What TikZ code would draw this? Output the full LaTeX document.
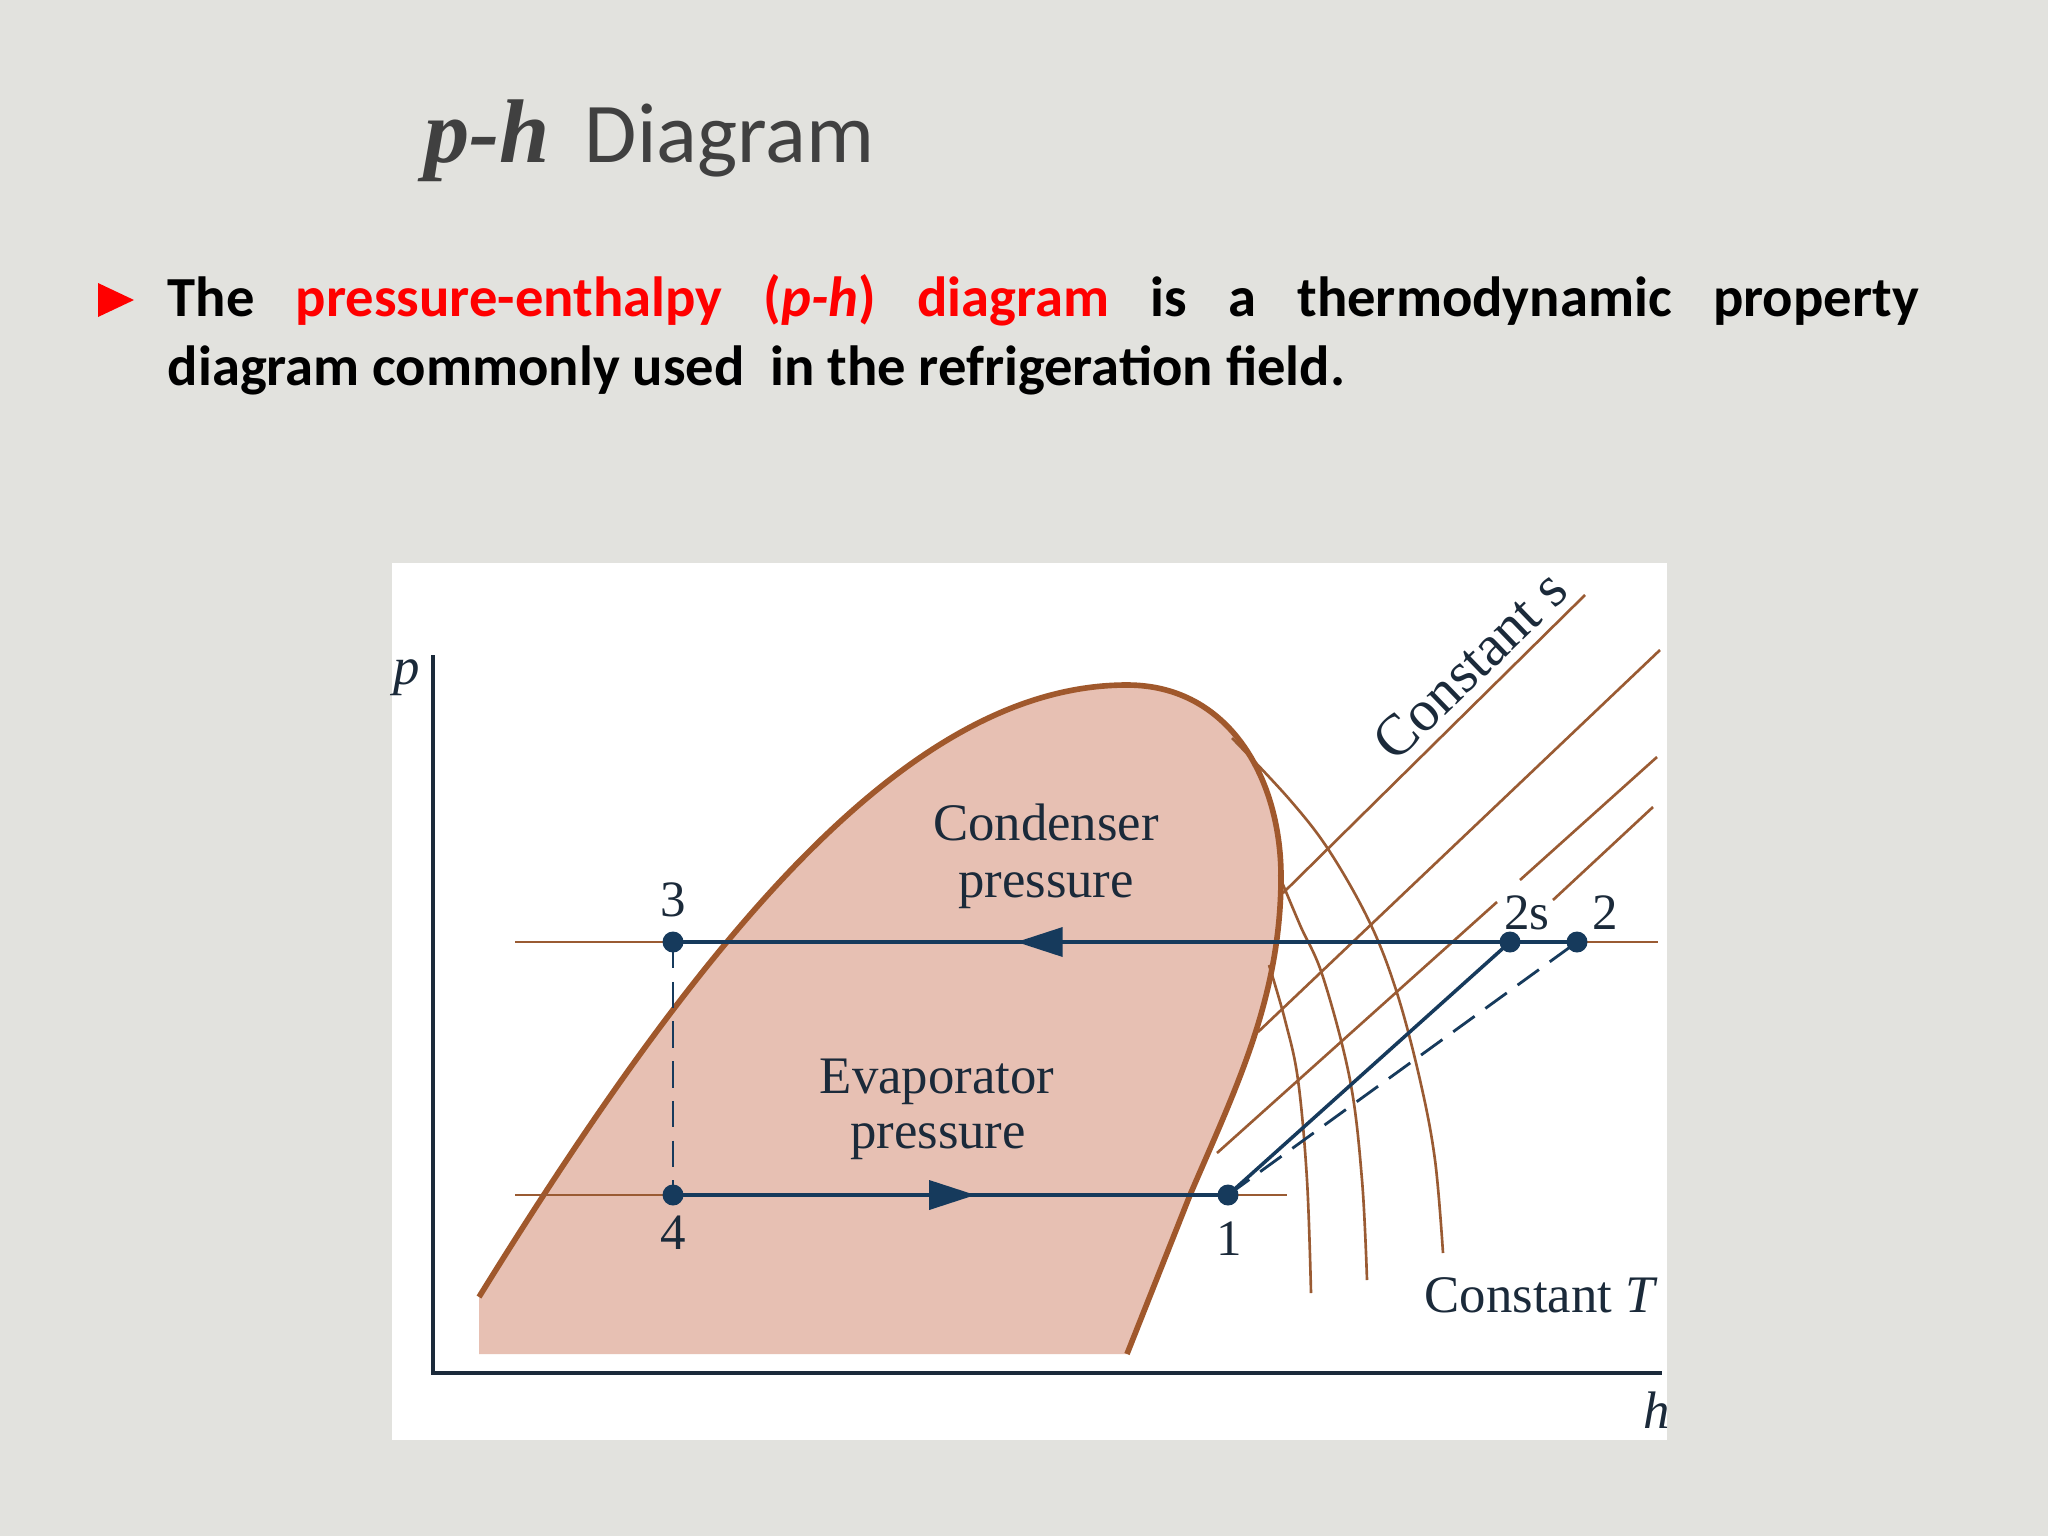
\documentclass[tikz,border=0pt]{standalone}
\usepackage{fontspec}
\setmainfont{Liberation Serif}
\newfontfamily\slidefont{Carlito}
\usetikzlibrary{decorations.markings}
\definecolor{slidebg}{HTML}{E2E2DE}
\definecolor{domefill}{HTML}{E7C0B3}
\definecolor{domebrown}{HTML}{A0582C}
\definecolor{thinbrown}{HTML}{9A5B33}
\definecolor{navy}{HTML}{163A5C}
\definecolor{inktext}{HTML}{1B2A3A}
\definecolor{titlegray}{HTML}{404040}
\begin{document}
\begin{tikzpicture}[x=0.01cm,y=-0.01cm,
  thinline/.style={thinbrown, line width=0.75pt},
  domeline/.style={domebrown, line width=1.6pt},
  cycleline/.style={navy, line width=1.2pt},
  dashline/.style={navy, line width=0.8pt, dash pattern=on 7.5pt off 3.8pt},
  axisline/.style={inktext, line width=0.9pt},
  dot/.style={circle, fill=navy, inner sep=0pt, minimum size=0.21cm},
  ptlabel/.style={text=inktext, inner sep=0pt, font=\fontsize{14.5}{16}\selectfont},
  dlabel/.style={text=inktext, inner sep=0pt, font=\fontsize{15}{17}\selectfont},
  leftarrow/.style={postaction={decorate}, decoration={markings,
     mark=at position #1 with {\fill[navy] (2.3mm,0) -- (-2.3mm,1.5mm) -- (-2.3mm,-1.5mm) -- cycle;}}}
]
\useasboundingbox (0,0) rectangle (2048,1536);
\fill[slidebg] (0,0) rectangle (2048,1536);

% title
\node[anchor=base west, inner sep=0pt, text=titlegray, font=\fontsize{25.7}{30}\selectfont\bfseries\itshape] (tph) at (424,162) {p-h};
\node[anchor=base west, inner sep=0pt, text=titlegray, font=\slidefont\fontsize{24.2}{30}\selectfont] (tdiag) at (584,162) {Diagram};

% bullet text
\fill[red] (98,283) -- (134,300) -- (98,317) -- cycle;
\node[anchor=base west, inner sep=0pt, font=\slidefont\bfseries\fontsize{16.1}{19}\selectfont] (line1) at (167,316)
  {\makebox[17.5cm][s]{The \textcolor{red}{pressure-enthalpy (\textit{p-h}) diagram} is a thermodynamic property}};
\node[anchor=base west, inner sep=0pt, font=\slidefont\bfseries\fontsize{16.1}{19}\selectfont] (line2) at (167,385)
  {diagram commonly used\ \ in the refrigeration field.};

% figure panel
\fill[white] (392,563) rectangle (1667,1440);

% dome fill
\fill[domefill] (479,1297) .. controls (700,940) and (907,685) .. (1127,685)
  .. controls (1230,685) and (1282,780) .. (1281,880)
  .. controls (1280,1000) and (1235,1090) .. (1190,1195)
  -- (1127,1354) -- (479,1354) -- cycle;

% constant T curves
\draw[thinline] plot[smooth, tension=0.6] coordinates {(1232,738) (1290,800) (1330,852) (1370,923) (1397,993) (1420,1080) (1435,1160) (1443,1253)};
\draw[thinline] plot[smooth, tension=0.6] coordinates {(1279,875) (1300,925) (1323,977) (1350,1080) (1362,1180) (1367,1280)};
\draw[thinline] plot[smooth, tension=0.6] coordinates {(1269,965) (1285,1020) (1298,1080) (1307,1180) (1311,1293)};

% constant s lines
\draw[thinline] (1585,595) -- (1283,893);
\draw[thinline] (1660,650) -- (1258,1032);
\draw[thinline] (1657,757) -- (1520,880);
\draw[thinline] (1497,902) -- (1217,1153);
\draw[thinline] (1653,807) -- (1553,900);

% dome outline
\draw[domeline] (479,1297) .. controls (700,940) and (907,685) .. (1127,685)
  .. controls (1230,685) and (1282,780) .. (1281,880)
  .. controls (1280,1000) and (1235,1090) .. (1190,1195)
  -- (1127,1354);

% axes
\coordinate (ytop) at (433,655);
\coordinate (orig) at (433,1373);
\coordinate (xend) at (1662,1373);
\draw[axisline] (ytop) -- (orig) -- (xend);
\node[dlabel, font=\fontsize{15}{17}\selectfont\itshape] (plab) at (407,678) {p};
\node[dlabel, anchor=base, font=\fontsize{15}{17}\selectfont\itshape] (hlab) at (1657,1428) {h};

% pressure lines
\coordinate (cL) at (515,942);
\coordinate (cR) at (1658,942);
\coordinate (eL) at (515,1195);
\coordinate (eR) at (1287,1195);
\draw[thinline] (cL) -- (cR);
\draw[thinline] (eL) -- (eR);

% cycle points
\coordinate (pt1) at (1228,1195);
\coordinate (pt2s) at (1510,942);
\coordinate (pt2) at (1577,942);
\coordinate (pt3) at (673,942);
\coordinate (pt4) at (673,1195);

\draw[cycleline, leftarrow=5.37cm] (pt2) -- (pt3);
\draw[cycleline, leftarrow=2.79cm] (pt4) -- (pt1);
\draw[navy, line width=1pt] (pt1) -- (pt2s);
\draw[dashline] (pt1) -- (pt2);
\draw[dashline] (pt3) -- (pt4);

\node[dot] (d1) at (pt1) {};
\node[dot] (d2s) at (pt2s) {};
\node[dot] (d2) at (pt2) {};
\node[dot] (d3) at (pt3) {};
\node[dot] (d4) at (pt4) {};

\node[ptlabel] (l3) at (673,900) {3};
\node[ptlabel] (l4) at (673,1233) {4};
\node[ptlabel] (l1) at (1229,1239) {1};
\node[ptlabel] (l2s) at (1527,913) {2s};
\node[ptlabel] (l2) at (1605,913) {2};

% region labels
\node[dlabel, anchor=base] (cond1) at (1046,840) {Condenser};
\node[dlabel, anchor=base] (cond2) at (1046,897) {pressure};
\node[dlabel, anchor=base] (evap1) at (937,1093) {Evaporator};
\node[dlabel, anchor=base] (evap2) at (938,1148) {pressure};
\node[dlabel, anchor=base west] (constT) at (1424,1312) {Constant \textit{T}};
\node[dlabel, rotate=44, font=\fontsize{16.5}{18}\selectfont] (consts) at (1470,665) {Constant s};
\end{tikzpicture}
\end{document}
